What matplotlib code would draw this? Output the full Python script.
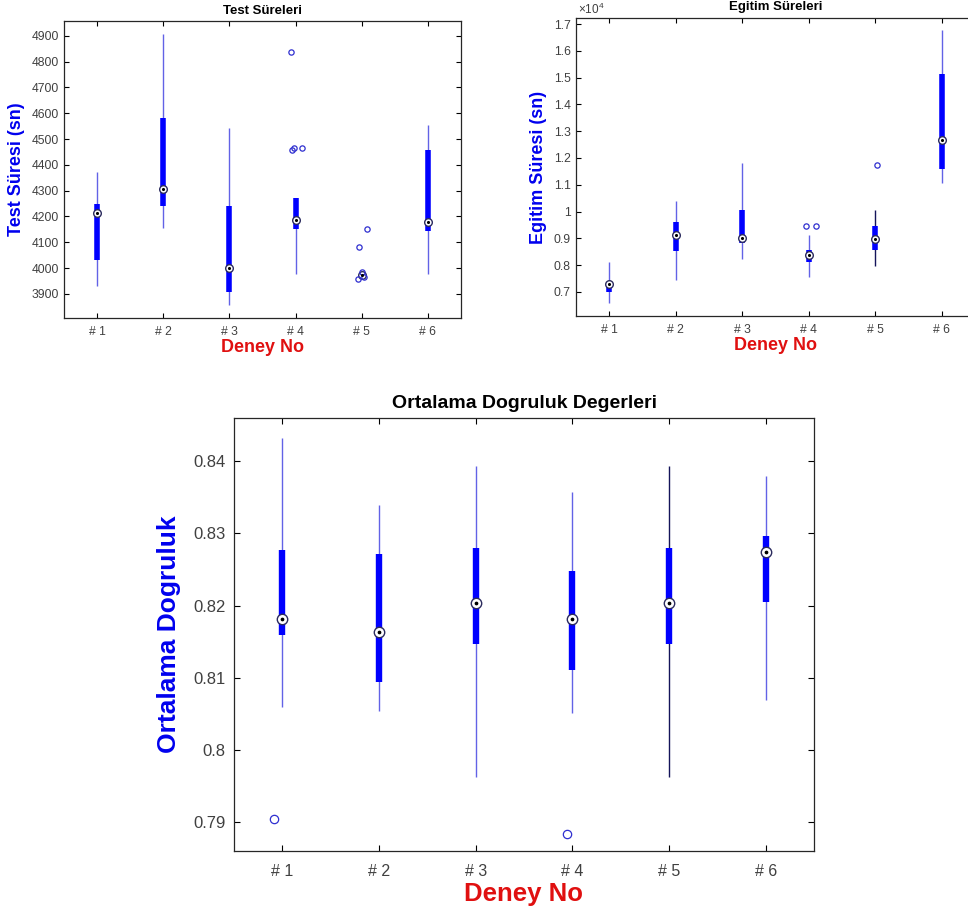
import numpy as np
import matplotlib.pyplot as plt
from matplotlib.ticker import FuncFormatter, MultipleLocator

plt.rcParams['font.family'] = ['Liberation Sans', 'DejaVu Sans']
plt.rcParams['mathtext.fontset'] = 'custom'
plt.rcParams['mathtext.rm'] = 'Liberation Sans'

deney = ['# 1', '# 2', '# 3', '# 4', '# 5', '# 6']

# Test Süreleri (sn) - whisker low, q1, median, q3, whisker high
test_wlo = [3930, 4154, 3857, 3976, 3962, 3976]
test_q1 = [4030, 4241, 3906, 4151, 3966, 4145]
test_med = [4213, 4306, 4001, 4186, 3972, 4177]
test_q3 = [4249, 4580, 4239, 4270, 3980, 4458]
test_whi = [4373, 4905, 4542, 4270, 3984, 4553]
test_out_grp = [4, 4, 4, 4, 5, 5, 5, 5, 5]
test_out_dx = [-0.07, -0.06, -0.03, 0.10, 0.085, -0.036, 0.0, -0.05, 0.03]
test_out_val = [4837, 4458, 4467, 4466, 4151, 4082, 3986, 3957, 3965]

# Egitim Süreleri (sn)
egt_wlo = [6576, 7448, 8245, 7573, 7970, 11047]
egt_q1 = [7010, 8544, 8818, 8108, 8569, 11570]
egt_med = [7300, 9105, 9017, 8382, 8968, 12654]
egt_q3 = [7380, 9603, 10039, 8569, 9478, 15145]
egt_whi = [8108, 10400, 11807, 9142, 10039, 16763]
egt_out_grp = [4, 4, 5]
egt_out_dx = [-0.04, 0.115, 0.025]
egt_out_val = [9466, 9466, 11732]

# Ortalama Dogruluk
acc_wlo = [0.8059, 0.8054, 0.7962, 0.8051, 0.7962, 0.8069]
acc_q1 = [0.8159, 0.8094, 0.8147, 0.8111, 0.8147, 0.8205]
acc_med = [0.8182, 0.8164, 0.8204, 0.8182, 0.8204, 0.8275]
acc_q3 = [0.8277, 0.8272, 0.8280, 0.8248, 0.8280, 0.8296]
acc_whi = [0.8432, 0.8339, 0.8394, 0.8358, 0.8394, 0.8379]
acc_out_grp = [1, 4]
acc_out_dx = [-0.085, -0.06]
acc_out_val = [0.7905, 0.7884]

light = '#6262e6'
dark = '#14145a'


def compact_box(ax, wlo, q1, med, q3, whi, og, odx, ov, box_lw, med_ms, out_ms, wcols):
    x = np.arange(1, len(med) + 1)
    for i in range(len(x)):
        ax.vlines(x[i], wlo[i], whi[i], color=wcols[i], lw=1.0, zorder=2)
    ax.vlines(x, q1, q3, color='#0000ff', lw=box_lw, zorder=3)
    ax.plot(x, med, 'o', mfc='white', mec='#2b2b5e', ms=med_ms, mew=1.0, ls='none', zorder=4)
    ax.plot(x, med, '.', color='black', ms=med_ms * 0.45, ls='none', zorder=5)
    ax.plot(np.array(og) + np.array(odx), ov, 'o', mfc='none', mec='#2f2fd0',
            ms=out_ms, mew=0.9, ls='none', zorder=4)
    ax.set_xlim(0.5, 6.5)
    ax.set_xticks(x)
    ax.set_xticklabels(deney)
    for s in ax.spines.values():
        s.set_linewidth(0.9)
        s.set_color('#262626')


fig = plt.figure(figsize=(9.68, 9.15), dpi=100)

# top left
ax1 = fig.add_axes([64 / 968, 1 - 318 / 915, 397 / 968, 297.3 / 915])
compact_box(ax1, test_wlo, test_q1, test_med, test_q3, test_whi,
            test_out_grp, test_out_dx, test_out_val, 4.0, 5.5, 3.8, [light] * 6)
ax1.set_ylim(3807, 4958)
ax1.yaxis.set_major_locator(MultipleLocator(100))
ax1.tick_params(axis='both', direction='in', top=True, right=True, length=3.5, width=0.8,
                labelsize=8.7, labelcolor='#404040')
ax1.tick_params(axis='x', pad=5.8)
ax1.tick_params(axis='y', pad=3.6)
ax1.set_title('Test Süreleri', fontsize=9.5, fontweight='bold', pad=5)
ax1.set_ylabel('Test Süresi (sn)', fontsize=13, fontweight='bold', color='#0000ee')
ax1.yaxis.set_label_coords(-0.097, 0.5)
ax1.set_xlabel('Deney No', fontsize=13, fontweight='bold', color='#e01010')
ax1.xaxis.set_label_coords(0.5, -0.069)

# top right
ax2 = fig.add_axes([576 / 968, 1 - 316 / 915, 399 / 968, 298 / 915])
wc2 = [light] * 6
wc2[4] = dark
compact_box(ax2, egt_wlo, egt_q1, egt_med, egt_q3, egt_whi,
            egt_out_grp, egt_out_dx, egt_out_val, 4.0, 5.5, 3.8, wc2)
ax2.set_ylim(6100, 17224)
ax2.yaxis.set_major_locator(MultipleLocator(1000))
ax2.yaxis.set_major_formatter(FuncFormatter(lambda v, p: '%g' % round(v / 1e4, 2)))
ax2.tick_params(axis='both', direction='in', top=True, right=True, length=3.5, width=0.8,
                labelsize=8.7, labelcolor='#404040')
ax2.tick_params(axis='x', pad=5.8)
ax2.tick_params(axis='y', pad=3.8)
ax2.text(0.005, 1.004, r'$\times10^{4}$', transform=ax2.transAxes, fontsize=8.5,
         color='#404040', ha='left', va='bottom')
ax2.set_title('Egitim Süreleri', fontsize=9.5, fontweight='bold', pad=5.8)
ax2.set_ylabel('Egitim Süresi (sn)', fontsize=13, fontweight='bold', color='#0000ee')
ax2.yaxis.set_label_coords(-0.073, 0.5)
ax2.set_xlabel('Deney No', fontsize=13, fontweight='bold', color='#e01010')
ax2.xaxis.set_label_coords(0.5, -0.070)

# bottom
ax3 = fig.add_axes([234 / 968, 1 - 851 / 915, 580 / 968, 433 / 915])
wc3 = [light] * 6
wc3[4] = dark
compact_box(ax3, acc_wlo, acc_q1, acc_med, acc_q3, acc_whi,
            acc_out_grp, acc_out_dx, acc_out_val, 4.6, 7.5, 6.0, wc3)
ax3.set_ylim(0.786, 0.846)
ax3.yaxis.set_major_locator(MultipleLocator(0.01))
ax3.yaxis.set_major_formatter(FuncFormatter(lambda v, p: '%g' % round(v, 3)))
ax3.tick_params(axis='both', direction='in', top=True, right=True, length=4.5, width=0.8,
                labelsize=12, labelcolor='#404040')
ax3.tick_params(axis='x', pad=9, labelsize=11.5)
ax3.tick_params(axis='y', pad=6)
ax3.set_title('Ortalama Dogruluk Degerleri', fontsize=14, fontweight='bold', pad=7)
ax3.set_ylabel('Ortalama Dogruluk', fontsize=19, fontweight='bold', color='#0000ee')
ax3.yaxis.set_label_coords(-0.0914, 0.5)
ax3.set_xlabel('Deney No', fontsize=18.5, fontweight='bold', color='#e01010')
ax3.xaxis.set_label_coords(0.5, -0.0716)

fig.savefig('out.png', dpi=100)
